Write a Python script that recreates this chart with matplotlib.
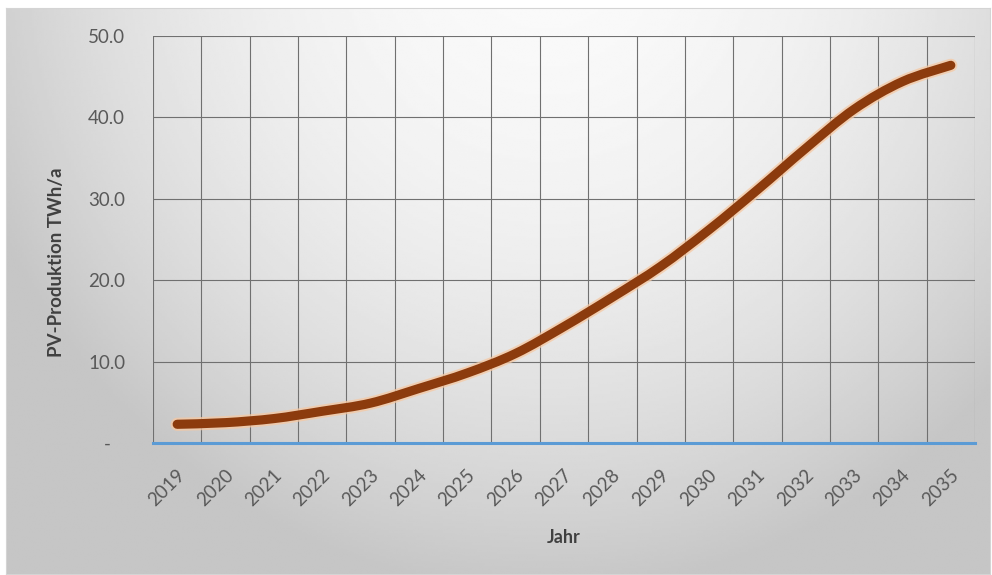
import numpy as np
import matplotlib
matplotlib.use("Agg")
import matplotlib.pyplot as plt
from matplotlib.path import Path
from matplotlib.patches import PathPatch
from matplotlib.ticker import FixedLocator, FuncFormatter
from matplotlib.transforms import ScaledTranslation

# ---- data -----------------------------------------------------------------
YEARS = ["2019", "2020", "2021", "2022", "2023", "2024", "2025", "2026",
         "2027", "2028", "2029", "2030", "2031", "2032", "2033", "2034",
         "2035"]
PV_TWH = [2.3, 2.5, 3.0, 3.9, 4.9, 6.7, 8.6, 11.0, 14.3, 17.9, 21.7, 26.2,
          31.1, 36.2, 41.0, 44.4, 46.4]
Y_TICKS = [0, 10, 20, 30, 40, 50]

plt.rcParams["font.family"] = ["Lato", "DejaVu Sans"]


def smooth_path(xs, ys):
    """Excel-style smoothed line: cubic Bezier segments through the points."""
    p = np.column_stack([xs, ys]).astype(float)
    ext = np.vstack([p[0], p, p[-1]])
    verts, codes = [p[0]], [Path.MOVETO]
    for i in range(len(p) - 1):
        c1 = ext[i + 1] + (ext[i + 2] - ext[i]) / 6
        c2 = ext[i + 2] - (ext[i + 3] - ext[i + 1]) / 6
        verts += [c1, c2, p[i + 1]]
        codes += [Path.CURVE4] * 3
    return Path(verts, codes)


W, H = 992, 575
fig = plt.figure(figsize=(W / 100, H / 100), dpi=100)
fig.patch.set_facecolor("white")

# ---- panel background (soft radial gradient like the Excel chart area) ----
bg = fig.add_axes([6 / W, 1 - 574 / H, 984 / W, 566 / H])
u, v = np.meshgrid(np.linspace(0, 1, 400), np.linspace(0, 1, 240))
d = np.sqrt(((u - 0.55) / 0.62) ** 2 + ((v + 0.12) / 1.15) ** 2)
shade = 250 - 52 * np.clip(d, 0, 1) ** 2.0
bg.imshow(shade, cmap="gray", vmin=0, vmax=255, aspect="auto",
          extent=(0, 1, 0, 1), origin="upper", interpolation="bilinear")
bg.set_xlim(0, 1); bg.set_ylim(0, 1)
bg.set_xticks([]); bg.set_yticks([])
for s in bg.spines.values():
    s.set_color("#d4d4d4"); s.set_linewidth(0.8)

# ---- plot area -------------------------------------------------------------
ax = fig.add_axes([153 / W, 1 - 443 / H, 822 / W, 407 / H])
ax.set_facecolor("none")
x = np.arange(len(YEARS))

curve = smooth_path(x, PV_TWH)
ax.add_patch(PathPatch(curve, fill=False, edgecolor="#f6c8a2", lw=9.5,
                       alpha=0.75, capstyle="round", joinstyle="round",
                       zorder=3))
ax.add_patch(PathPatch(curve, fill=False, edgecolor="#8c3b0d", lw=6.6,
                       capstyle="round", joinstyle="round", zorder=4))

ax.set_xlim(-0.5, len(YEARS) - 0.5)
ax.set_ylim(0, 50)

ax.xaxis.set_major_locator(FixedLocator(x))
ax.xaxis.set_minor_locator(FixedLocator(np.arange(len(YEARS) + 1) - 0.5))
ax.set_xticklabels(YEARS, rotation=45, ha="right", va="center",
                   rotation_mode="anchor", color="#595959", fontsize=13.5)
ax.tick_params(axis="x", which="both", length=0, pad=21)
off = ScaledTranslation(5 / 100, 0, fig.dpi_scale_trans)
for lab in ax.get_xticklabels():
    lab.set_transform(lab.get_transform() + off)

ax.yaxis.set_major_locator(FixedLocator(Y_TICKS))
ax.yaxis.set_major_formatter(
    FuncFormatter(lambda val, pos: "-   " if val == 0 else f"{val:.1f}"))
ax.tick_params(axis="y", length=0, pad=20, labelsize=13.5,
               labelcolor="#595959")

ax.grid(True, axis="y", which="major", color="#707070", lw=0.8)
ax.grid(True, axis="x", which="minor", color="#707070", lw=0.8)
ax.grid(False, axis="x", which="major")

for side in ("top", "left", "right"):
    ax.spines[side].set_visible(False)
ax.spines["bottom"].set_color("#5b9bd5")
ax.spines["bottom"].set_linewidth(2.2)
ax.spines["bottom"].set_zorder(5)

ax.set_xlabel("Jahr", fontsize=13, fontweight="bold", color="#404040")
ax.xaxis.set_label_coords(0.5, -0.233)
ax.xaxis.label.set_va("center")
ax.set_ylabel("PV-Produktion TWh/a", fontsize=13.5, fontweight="bold",
              color="#404040")
ax.yaxis.set_label_coords(-0.117, 0.445)
ax.yaxis.label.set_va("center")

fig.savefig("out.png", dpi=100)
